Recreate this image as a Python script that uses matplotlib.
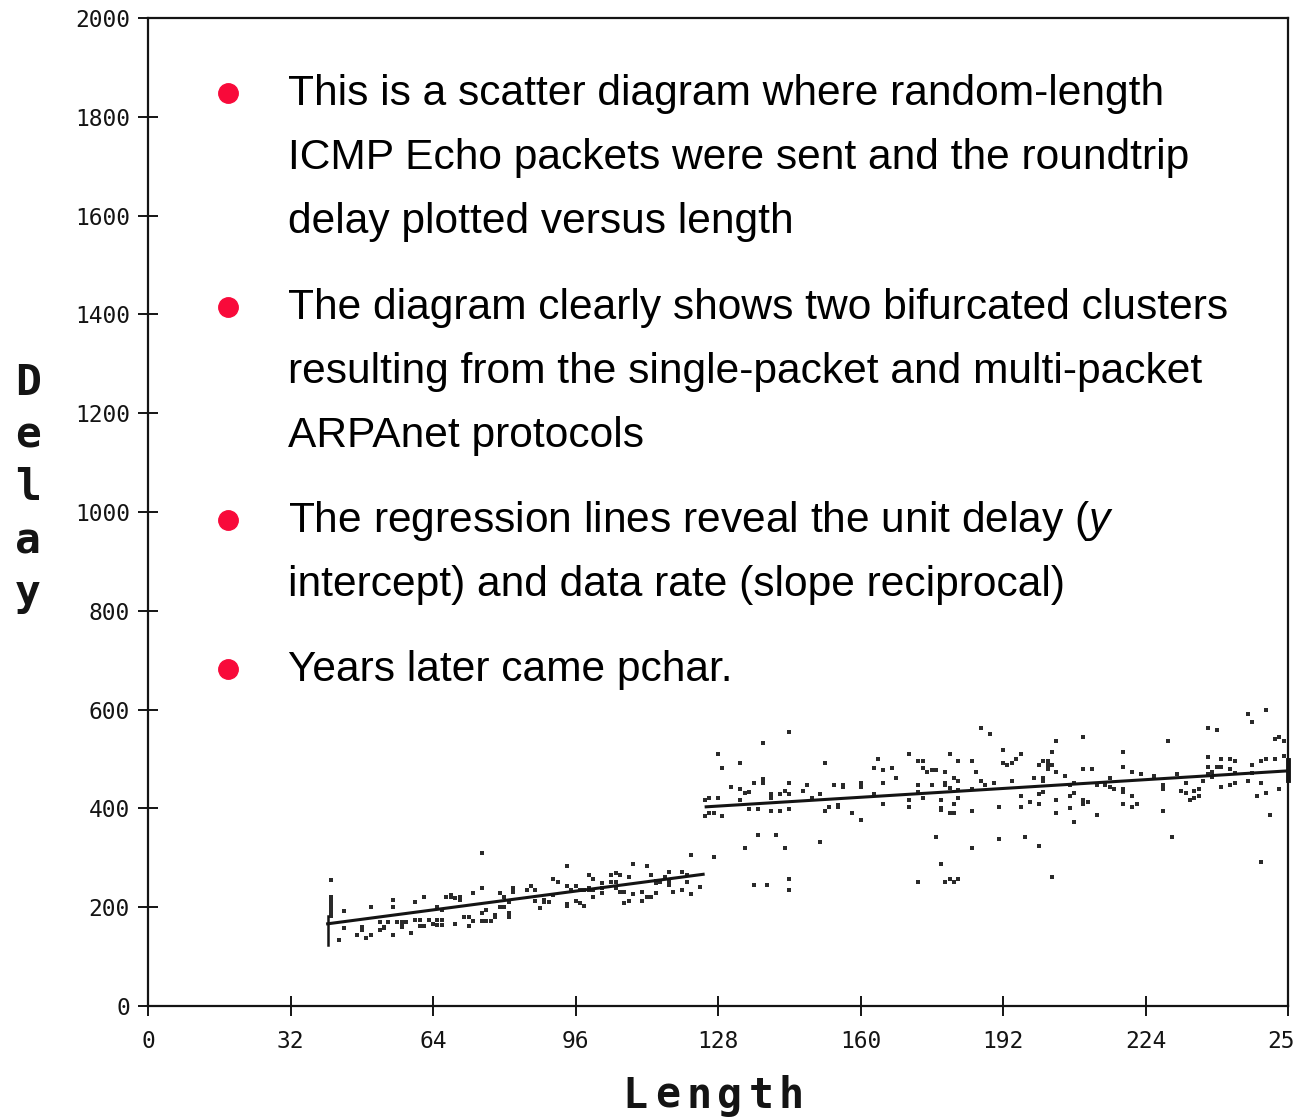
import matplotlib
matplotlib.use("Agg")
import matplotlib.pyplot as plt
from matplotlib.lines import Line2D

W, H = 1296, 1117
plt.rcParams['mathtext.fontset'] = 'custom'
plt.rcParams['mathtext.rm'] = 'Liberation Sans'
plt.rcParams['mathtext.it'] = 'Liberation Sans:italic'

# ---------------- data ----------------
x_ticks = [0, 32, 64, 96, 128, 160, 192, 224, 256]
y_ticks = [0, 200, 400, 600, 800, 1000, 1200, 1400, 1600, 1800, 2000]

# single-packet cluster (length, delay)
c1_len = [41, 41, 41, 41, 41, 41, 41, 41, 41,
          44, 43, 44, 47, 48, 48, 49, 50, 50, 52, 52, 53, 53, 54, 55, 55, 55, 56, 57, 57, 57,
          59, 58, 60, 60, 61, 61, 62, 62, 63, 64, 65, 65, 65, 66, 66, 66, 67, 68, 68, 69,
          70, 70, 69, 71, 72, 72, 73, 73, 75, 75, 75, 76, 77, 75, 76, 78, 78, 79, 80, 79,
          80, 81, 81, 81, 82, 82,
          85, 86, 87, 87, 88, 89, 89, 90, 91, 92, 91, 94, 94, 94, 94, 95, 96, 96, 97, 97,
          98, 98, 99, 100, 99, 100, 100, 99, 102, 102, 102, 104, 105, 105, 106, 104, 105, 106, 107, 107,
          108, 109, 108, 109, 111, 111, 112, 113, 112, 113, 114, 114, 114, 115, 116, 117, 117, 117, 118, 120,
          120, 121, 121, 122, 122, 124, 127]
c1_delay = [255, 221, 215, 210, 204, 198, 194, 188, 182,
            192, 134, 158, 144, 160, 154, 138, 200, 144, 154, 170, 158, 160, 170, 215, 200, 144, 170, 170, 160, 164,
            148, 170, 210, 174, 174, 162, 162, 221, 174, 166, 200, 174, 164, 174, 164, 194, 221, 225, 221, 219,
            221, 215, 166, 180, 180, 162, 172, 229, 239, 310, 172, 172, 172, 188, 194, 184, 180, 229, 221, 200,
            200, 210, 188, 180, 239, 231,
            235, 243, 235, 213, 198, 215, 210, 210, 257, 251, 225, 283, 243, 206, 202, 235, 243, 213, 208, 235,
            202, 235, 265, 257, 239, 221, 235, 235, 249, 239, 229, 265, 269, 251, 265, 251, 239, 231, 231, 208,
            213, 287, 261, 227, 231, 213, 221, 221, 283, 265, 229, 249, 253, 251, 261, 271, 251, 245, 231, 271,
            235, 265, 251, 306, 227, 241, 302]

# multi-packet cluster (length, delay)
c2_len = [144, 138, 128, 129, 133, 152, 136, 138, 138, 131, 133, 134, 135, 133, 125, 126, 128, 125, 126, 127,
          129, 135, 137, 140, 140, 142, 143, 144, 144, 140, 142, 144, 147, 148, 149, 151, 152, 153, 154, 156,
          156, 155, 155, 158, 137, 141, 134, 143, 151, 136, 139, 144, 144,
          187, 189, 171, 180, 164, 173, 174, 182, 185, 163, 165, 167, 174, 175, 176, 177, 179, 186, 168, 181,
          182, 160, 160, 165, 173, 176, 179, 179, 187, 188, 190, 180, 182, 185, 163, 173, 171, 174, 178, 182,
          171, 165, 178, 178, 181, 160, 180, 181, 185, 177, 185, 178, 173, 179, 180, 181, 182,
          210, 204, 192, 203, 219, 192, 193, 194, 195, 196, 200, 201, 202, 202, 203, 202, 204, 210, 212, 219,
          221, 223, 194, 199, 201, 201, 206, 207, 208, 216, 213, 215, 216, 217, 219, 219, 201, 200, 196, 207,
          208, 204, 210, 211, 210, 198, 200, 196, 191, 221, 221, 222, 219, 207, 204, 213, 208, 191, 197, 200,
          203,
          247, 251, 248, 238, 240, 229, 253, 254, 255, 238, 241, 243, 244, 250, 251, 253, 255, 238, 240, 241,
          248, 239, 243, 226, 231, 244, 248, 238, 239, 228, 228, 233, 237, 244, 243, 247, 250, 232, 233, 235,
          236, 241, 251, 254, 234, 235, 236, 249, 228, 252, 230, 250]
c2_delay = [555, 532, 510, 482, 492, 492, 451, 459, 451, 443, 439, 431, 433, 417, 417, 421, 421, 385, 391, 391,
            385, 399, 399, 429, 421, 429, 435, 451, 429, 395, 395, 399, 435, 447, 421, 429, 395, 403, 447, 447,
            443, 407, 403, 391, 346, 346, 320, 320, 332, 245, 245, 257, 235,
            563, 551, 510, 510, 500, 496, 496, 496, 496, 482, 478, 482, 482, 474, 478, 478, 474, 474, 461, 461,
            455, 451, 443, 451, 447, 447, 451, 447, 455, 447, 451, 441, 437, 439, 429, 433, 417, 421, 417, 421,
            403, 409, 401, 397, 409, 376, 391, 391, 395, 342, 320, 287, 251, 251, 257, 251, 257,
            544, 536, 518, 514, 514, 492, 488, 492, 500, 510, 488, 496, 496, 488, 488, 480, 474, 480, 480, 484,
            474, 470, 455, 461, 461, 455, 466, 447, 451, 461, 447, 447, 443, 439, 439, 433, 433, 429, 425, 425,
            431, 417, 417, 413, 409, 413, 409, 403, 403, 425, 403, 409, 409, 401, 391, 387, 372, 338, 342, 324,
            261,
            591, 599, 575, 563, 559, 536, 540, 544, 536, 504, 500, 500, 496, 496, 500, 500, 506, 484, 484, 484,
            488, 474, 480, 466, 470, 472, 472, 470, 463, 447, 439, 451, 455, 451, 447, 455, 451, 435, 431, 435,
            439, 443, 431, 439, 417, 421, 425, 425, 395, 387, 342, 291]

# regression lines (endpoints) and stacked-point bars
reg1_len = [40, 125]
reg1_delay = [166, 267]
reg2_len = [125, 256]
reg2_delay = [403, 476]
bar1_len = [40.5, 40.5]
bar1_delay = [123, 182]
bar2_len = [256, 256]
bar2_delay = [457, 498]

bullets = [
    ["This is a scatter diagram where random-length",
     "ICMP Echo packets were sent and the roundtrip",
     "delay plotted versus length"],
    ["The diagram clearly shows two bifurcated clusters",
     "resulting from the single-packet and multi-packet",
     "ARPAnet protocols"],
    ["The regression lines reveal the unit delay ($y$",
     "intercept) and data rate (slope reciprocal)"],
    ["Years later came pchar."],
]
bullet_baselines = [105, 319, 532, 681]

# ---------------- figure ----------------
fig = plt.figure(figsize=(W / 100, H / 100), dpi=100)
fig.patch.set_facecolor('white')

ax = fig.add_axes([148 / W, 1 - 1006 / H, 1140 / W, 988 / H])
ax.set_xlim(0, 256)
ax.set_ylim(0, 2000)
ink = '#141414'
for s in ax.spines.values():
    s.set_linewidth(1.6)
    s.set_color(ink)

ax.scatter(c1_len, c1_delay, s=7, marker='s', color='#2a2a2a', linewidths=0)
ax.scatter(c2_len, c2_delay, s=7, marker='s', color='#2a2a2a', linewidths=0)
ax.plot(reg1_len, reg1_delay, color=ink, lw=2.2, solid_capstyle='butt')
ax.plot(reg2_len, reg2_delay, color=ink, lw=2.2, solid_capstyle='butt')
ax.plot(bar1_len, bar1_delay, color=ink, lw=1.8, clip_on=False)
ax.plot(bar2_len, bar2_delay, color=ink, lw=3.5, clip_on=False)

ax.set_xticks(x_ticks)
ax.set_yticks(y_ticks)
ax.set_xticklabels([str(v) for v in x_ticks])
ax.set_yticklabels([str(v) for v in y_ticks])
ax.tick_params(direction='inout', length=14, width=1.4, color=ink,
               labelsize=16.5, labelcolor=ink)
ax.tick_params(axis='x', pad=10)
ax.tick_params(axis='y', pad=6)
for lab in ax.get_xticklabels() + ax.get_yticklabels():
    lab.set_fontfamily('DejaVu Sans Mono')

# x label "Length" (letter-spaced, monospace)
xl_centers = [635, 668, 699, 730, 761, 791]
for ch, cx in zip("Length", xl_centers):
    fig.text(cx / W, 1 - 1108 / H, ch, family='DejaVu Sans Mono', weight='bold',
             fontsize=30, ha='center', va='baseline', color=ink)

# y label "Delay" stacked vertically
yl_baselines = [395, 447, 500, 553, 605]
for ch, by in zip("Delay", yl_baselines):
    fig.text(28 / W, 1 - by / H, ch, family='DejaVu Sans Mono', weight='bold',
             fontsize=31, ha='center', va='baseline', color=ink)

# bullet text
for lines, b0 in zip(bullets, bullet_baselines):
    fig.add_artist(Line2D([228 / W], [1 - (b0 - 12) / H], marker='o', markersize=14,
                          color='#f80a3a', transform=fig.transFigure))
    for i, line in enumerate(lines):
        fig.text(288 / W, 1 - (b0 + 64 * i) / H, line, family='Liberation Sans',
                 fontsize=30.6, ha='left', va='baseline', color='black')

fig.savefig('out.png', dpi=100, facecolor='white')
